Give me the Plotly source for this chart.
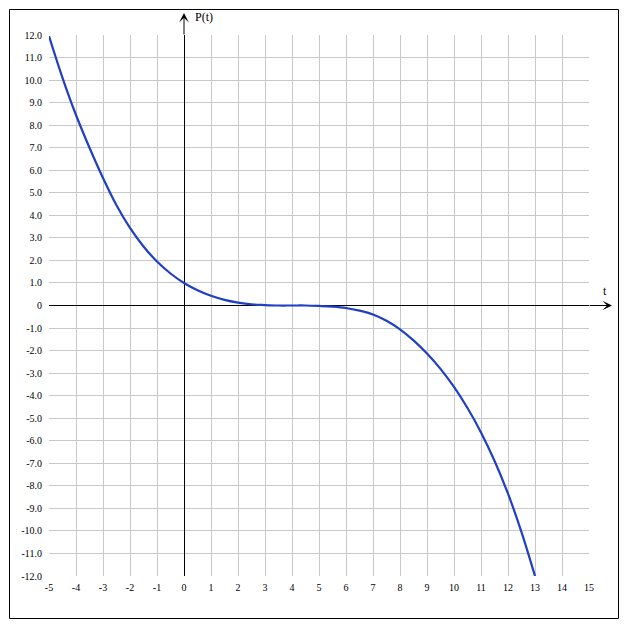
import plotly.graph_objects as go

# Values
t_vals = [-5, -4.5, -4, -3.5, -3, -2.5, -2, -1.5, -1, -0.5, 0, 0.5, 1, 1.5, 2, 2.5,
          3, 3.5, 4, 4.5, 5, 5.5, 6, 6.5, 7, 7.5, 8, 8.5, 9, 9.5, 10, 10.5,
          11, 11.5, 12, 12.5, 13]
p_vals = [11.95, 10.1, 8.45, 7.0, 5.66, 4.45, 3.44, 2.62, 1.95, 1.42, 1.0, 0.68,
          0.43, 0.25, 0.13, 0.05, 0.02, 0.0, 0.0, 0.0, -0.02, -0.05, -0.11,
          -0.23, -0.4, -0.68, -1.06, -1.55, -2.13, -2.81, -3.61, -4.55, -5.63,
          -6.89, -8.35, -10.05, -12.0]

x_ticks = list(range(-5, 16))
x_tick_text = [str(v) for v in x_ticks]
y_ticks = list(range(-12, 13))
y_tick_text = ["0" if v == 0 else f"{v:.1f}" for v in y_ticks]

x_title = "t"
y_title = "P(t)"

OFF = 8  # page body margin
W, H = 627 - OFF, 630 - OFF
L, T = 49 - OFF, 35 - OFF
pw, ph = 540, 541
R, B = W - L - pw, H - T - ph

def px_x(px):
    return (px - OFF - L) / pw

def px_y(py):
    return (T + ph - (py - OFF)) / ph

FONT = "'Liberation Serif', 'Times New Roman', serif"

fig = go.Figure()
fig.add_trace(go.Scatter(
    x=t_vals, y=p_vals, mode="lines",
    line=dict(color="#1f3fc4", width=2.2, shape="spline", smoothing=1.0),
    hoverinfo="skip", showlegend=False,
))

axis_common = dict(
    showgrid=True, gridcolor="#c8c8c8", gridwidth=1,
    zeroline=True, zerolinecolor="black", zerolinewidth=1,
    showline=False, ticks="",
    tickfont=dict(family=FONT, size=10, color="black"),
    fixedrange=True,
)

fig.update_xaxes(range=[-5, 15], tickmode="array", tickvals=x_ticks,
                 ticktext=x_tick_text, ticklabelstandoff=4, **axis_common)
fig.update_yaxes(range=[-12, 12], tickmode="array", tickvals=y_ticks,
                 ticktext=y_tick_text, ticklabelstandoff=6, **axis_common)

# outer border
fig.add_shape(type="rect", xref="paper", yref="paper",
              x0=px_x(9.5), x1=px_x(618.5), y0=px_y(618.5), y1=px_y(9.5),
              line=dict(color="black", width=1), fillcolor="rgba(0,0,0,0)",
              layer="above")

# axis arrows
fig.add_annotation(xref="x", yref="paper", x=0, y=px_y(13), ax=0, ay=23,
                   showarrow=True, arrowhead=3, arrowsize=1.6, arrowwidth=1,
                   arrowcolor="black", standoff=0, text="")
fig.add_annotation(xref="paper", yref="y", x=px_x(612), y=0, ax=-24, ay=0,
                   showarrow=True, arrowhead=3, arrowsize=1.6, arrowwidth=1,
                   arrowcolor="black", standoff=0, text="")

# axis titles
fig.add_annotation(xref="paper", yref="paper", x=px_x(193), y=px_y(17),
                   xanchor="left", yanchor="middle", showarrow=False,
                   text=y_title, font=dict(family=FONT, size=12, color="black"))
fig.add_annotation(xref="paper", yref="paper", x=px_x(605), y=px_y(291),
                   xanchor="center", yanchor="middle", showarrow=False,
                   text=x_title, font=dict(family=FONT, size=12, color="black"))

fig.update_layout(
    width=W, height=H,
    margin=dict(l=L, r=R, t=T, b=B, pad=0),
    paper_bgcolor="white", plot_bgcolor="white",
    showlegend=False,
)

fig.write_html("out.html", config={"displayModeBar": False})
